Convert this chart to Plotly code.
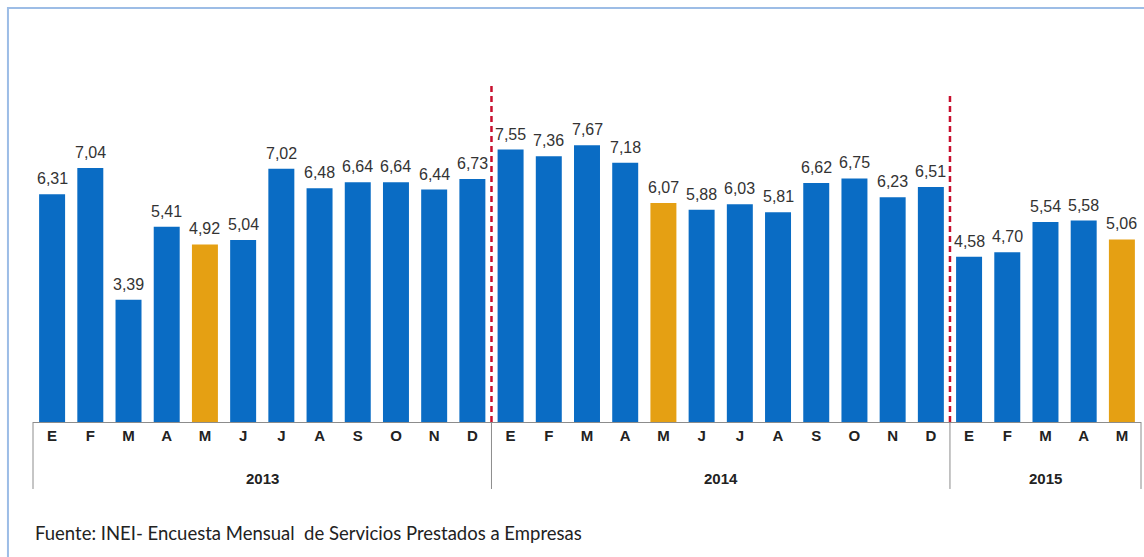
import plotly.graph_objects as go

# data
months = ['E', 'F', 'M', 'A', 'M', 'J', 'J', 'A', 'S', 'O', 'N', 'D',
          'E', 'F', 'M', 'A', 'M', 'J', 'J', 'A', 'S', 'O', 'N', 'D',
          'E', 'F', 'M', 'A', 'M']
years = ['2013', '2014', '2015']
year_len = [12, 12, 5]
values = [6.31, 7.04, 3.39, 5.41, 4.92, 5.04, 7.02, 6.48, 6.64, 6.64, 6.44, 6.73,
          7.55, 7.36, 7.67, 7.18, 6.07, 5.88, 6.03, 5.81, 6.62, 6.75, 6.23, 6.51,
          4.58, 4.70, 5.54, 5.58, 5.06]
highlight = [4, 16, 28]  # the May bars

BLUE = '#0A6CC4'
ORANGE = '#E5A013'
NARROW = 'Liberation Sans Narrow, Arial Narrow, Liberation Sans, Arial'

x = list(range(len(values)))
x_lo, x_hi = -0.5, len(values) - 0.5
colors = [ORANGE if i in highlight else BLUE for i in x]

fig = go.Figure(go.Bar(
    x=x, y=values,
    marker=dict(color=colors, line=dict(width=0)),
    width=0.68,
    hoverinfo='x+y',
))

# value labels, a bit higher above the bars than plotly's outside text
for xi, v in zip(x, values):
    fig.add_annotation(x=xi, y=v, xref='x', yref='y', yanchor='bottom', yshift=5,
                       text=f'{v:.2f}'.replace('.', ','), showarrow=False,
                       font=dict(family=NARROW, size=16, color='#333333'))


def to_paper(pos):
    return (pos - x_lo) / (x_hi - x_lo)


# year group dividers and labels below the month labels
start = x_lo
fig.add_shape(type='line', xref='paper', yref='paper', x0=to_paper(start), x1=to_paper(start),
              y0=0, y1=-0.185, line=dict(color='#8c8c8c', width=1))
for yr, n in zip(years, year_len):
    end = start + n
    fig.add_shape(type='line', xref='paper', yref='paper', x0=to_paper(end), x1=to_paper(end),
                  y0=0, y1=-0.185, line=dict(color='#8c8c8c', width=1))
    fig.add_annotation(x=(start + end) / 2, y=-0.155, xref='x', yref='paper', yanchor='middle',
                       text='<b>' + yr + '</b>', showarrow=False,
                       font=dict(family=NARROW, size=15, color='#222222'))
    start = end

# red dashed separators between years
fig.add_shape(type='line', xref='x', yref='y', x0=11.5, x1=11.5, y0=0, y1=9.42,
              line=dict(color='#C8102E', width=2.5, dash='6px,4px'))
fig.add_shape(type='line', xref='x', yref='y', x0=23.5, x1=23.5, y0=0, y1=9.14,
              line=dict(color='#C8102E', width=2.5, dash='6px,4px'))

# outer frame (runs off the right and bottom edges)
fig.add_shape(type='rect', xref='paper', yref='paper', x0=-0.0226, x1=1.02, y0=-0.4, y1=1.1436,
              line=dict(color='#9DBDE6', width=2), fillcolor='rgba(0,0,0,0)', layer='below')

fig.add_annotation(x=0.0, y=-0.3066, xref='paper', yref='paper', xanchor='left', yanchor='middle',
                   text='Fuente: INEI- Encuesta Mensual  de Servicios Prestados a Empresas',
                   showarrow=False,
                   font=dict(family='Lato', size=18.5, color='#222222'))

fig.update_layout(
    width=1144, height=557,
    margin=dict(l=33, r=3, t=60, b=135),
    paper_bgcolor='white', plot_bgcolor='white',
    showlegend=False,
    xaxis=dict(
        range=[x_lo, x_hi],
        tickvals=x, ticktext=['<b>' + m + '</b>' for m in months],
        tickfont=dict(family=NARROW, size=15, color='#222222'),
        showline=True, linecolor='#8c8c8c', linewidth=1,
        ticks='',
        showgrid=False, zeroline=False,
    ),
    yaxis=dict(range=[0, 10.03], visible=False, showgrid=False),
)

# drop the default page margin so the figure fills the window exactly
fig.write_html('out.html', config={'displayModeBar': False},
               post_script="document.body.style.margin='0';document.body.style.overflow='hidden';")
